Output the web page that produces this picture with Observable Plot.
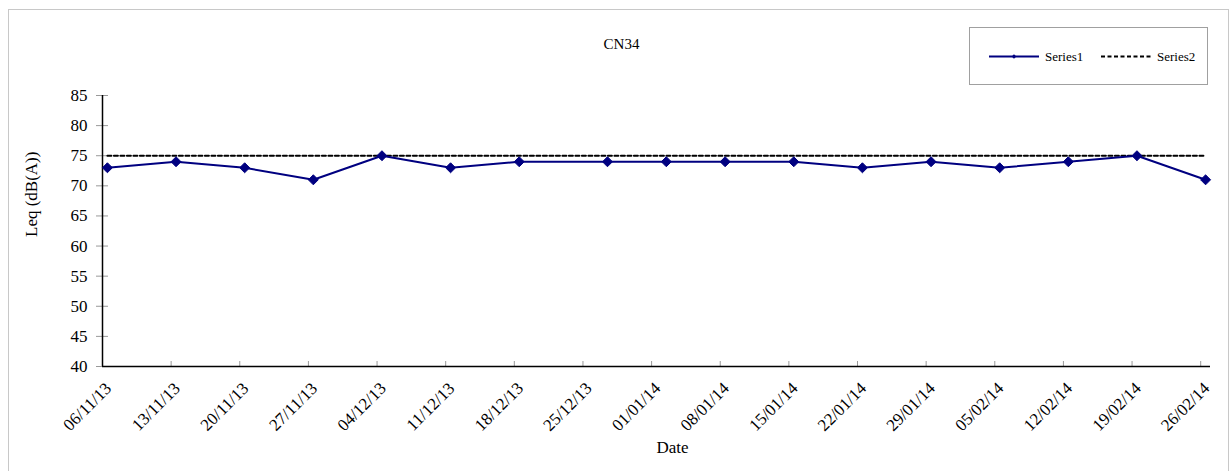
<!DOCTYPE html>
<html><head><meta charset="utf-8">
<script src="https://cdn.jsdelivr.net/npm/d3@7"></script>
<script src="https://cdn.jsdelivr.net/npm/@observablehq/plot@0.6"></script>
<style>
body{margin:0;background:#fff;}
#wrap{position:relative;width:1232px;height:471px;overflow:hidden;font-family:"Liberation Serif","Times New Roman",serif;}
#frame{position:absolute;left:8px;top:9px;width:1219px;height:480px;border:1px solid #c8c8c8;}
#chart{position:absolute;left:0;top:0;}
#legend{position:absolute;left:969px;top:27px;width:237px;height:56px;border:1px solid #a0a0a0;background:#fff;}
</style></head><body>
<div id="wrap"><div id="frame"></div><div id="chart"></div><div id="legend"></div></div>
<script>
const title = "CN34";
const xLabel = "Date";
const yLabel = "Leq (dB(A))";
const seriesNames = ["Series1", "Series2"];
const dates = ["06/11/13","13/11/13","20/11/13","27/11/13","04/12/13","11/12/13","18/12/13","27/12/13","02/01/14","08/01/14","15/01/14","22/01/14","29/01/14","05/02/14","12/02/14","19/02/14","26/02/14"];
const series1 = [73,74,73,71,75,73,74,74,74,74,74,73,74,73,74,75,71];
const series2 = [75,75,75,75,75,75,75,75,75,75,75,75,75,75,75,75,75];
const tickLabels = ["06/11/13","13/11/13","20/11/13","27/11/13","04/12/13","11/12/13","18/12/13","25/12/13","01/01/14","08/01/14","15/01/14","22/01/14","29/01/14","05/02/14","12/02/14","19/02/14","26/02/14"];
const yTicks = [40,45,50,55,60,65,70,75,80,85];
const xDomain = ["06/11/13","27/02/14"];
const yDomain = [40,85];

const parse = d3.utcParse("%d/%m/%y");
const fmt = d3.utcFormat("%d/%m/%y");
// Excel date axis: each point sits at the middle of its day
const mid = d => d3.utcHour.offset(parse(d), 12);
const data1 = dates.map((d,i)=>({date: mid(d), value: series1[i]}));
const data2 = dates.map((d,i)=>({date: mid(d), value: series2[i]}));
const tickDates = tickLabels.map(parse);
const NAVY = "#000080";
const FONT = "'Liberation Serif','Times New Roman',serif";

const chart = Plot.plot({
  width: 1232, height: 471,
  marginTop: 95, marginBottom: 105, marginLeft: 102, marginRight: 22,
  style: {fontFamily: FONT, fontSize: "17px", background: "transparent", color: "black"},
  x: {type: "utc", domain: xDomain.map(parse)},
  y: {domain: yDomain},
  marks: [
    Plot.axisY({ticks: yTicks, tickSize: 12, dx: 6, text: null, stroke: "#999", label: null}),
    Plot.axisY({ticks: yTicks, tickSize: 0, tickPadding: 15, label: null, fontSize: 17}),
    Plot.axisX({ticks: tickDates, tickSize: -5, text: null, stroke: "#999", label: null}),
    Plot.axisX({ticks: tickDates, tickSize: 0, tickPadding: 6, tickRotate: -45, tickFormat: fmt, label: null, fontSize: 17, dx: 6, dy: 13}),
    Plot.ruleY([yDomain[0]], {stroke: "black", strokeWidth: 1.5}),
    Plot.ruleX([parse(xDomain[0])], {stroke: "black", strokeWidth: 1.5}),
    Plot.line(data2, {x: "date", y: "value", stroke: "black", strokeWidth: 2, strokeDasharray: "4,2.5"}),
    Plot.line(data1, {x: "date", y: "value", stroke: NAVY, strokeWidth: 2}),
    Plot.dot(data1, {x: "date", y: "value", symbol: "diamond2", r: 4.5, fill: NAVY, stroke: NAVY, strokeWidth: 1}),
    Plot.text([title], {frameAnchor: "top", dx: -35, dy: -57, fontSize: 15}),
    Plot.text([yLabel], {frameAnchor: "left", rotate: -90, dx: -71, dy: 6, fontSize: 17}),
    Plot.text([xLabel], {frameAnchor: "bottom", dx: 16, dy: 86, fontSize: 17})
  ]
});
document.getElementById("chart").appendChild(chart);

// legend
const lg = d3.select("#legend").append("svg").attr("width", 237).attr("height", 56)
  .style("font-family", FONT).style("font-size", "13px");
const items = [
  {name: seriesNames[0], x: 19, stroke: NAVY, dash: null, marker: true},
  {name: seriesNames[1], x: 131, stroke: "black", dash: "4,2.5", marker: false}
];
for (const it of items) {
  lg.append("line").attr("x1", it.x).attr("x2", it.x + 50).attr("y1", 28.5).attr("y2", 28.5)
    .attr("stroke", it.stroke).attr("stroke-width", 2).attr("stroke-dasharray", it.dash);
  if (it.marker) lg.append("path").attr("d", d3.symbol(d3.symbolDiamond2, 14)())
    .attr("transform", `translate(${it.x + 25},28.5)`).attr("fill", it.stroke);
  lg.append("text").attr("x", it.x + 56).attr("y", 28.5).attr("dy", "0.35em").text(it.name);
}
</script>
</body></html>
